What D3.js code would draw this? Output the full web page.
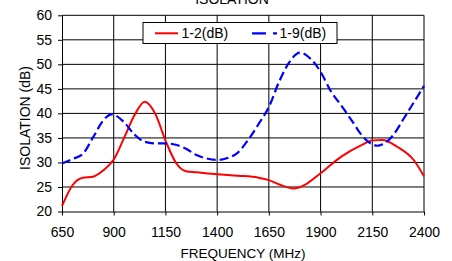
<!DOCTYPE html>
<html><head><meta charset="utf-8">
<script src="https://cdn.jsdelivr.net/npm/d3@7"></script>
<style>
body{margin:0;background:#fff;}
svg{display:block;font-family:"Liberation Sans",Arial,sans-serif;}
</style></head>
<body><svg id="c" width="452" height="261"></svg>
<script>
const title = "ISOLATION";
const xTitle = "FREQUENCY (MHz)";
const yTitle = "ISOLATION (dB)";
const xTicks = [650, 900, 1150, 1400, 1650, 1900, 2150, 2400];
const yTicks = [20, 25, 30, 35, 40, 45, 50, 55, 60];
const seriesNames = ["1-2(dB)", "1-9(dB)"];
const freq12 = [650,700,750,800,850,900,950,1000,1050,1100,1150,1200,1250,1300,1400,1500,1600,1650,1700,1770,1830,1900,2000,2100,2150,2200,2270,2350,2400];
const iso12  = [21.1,25.3,26.9,27.1,28.4,30.6,35.0,39.6,42.4,40.0,34.5,30.0,28.2,28.0,27.6,27.3,26.9,26.4,25.5,24.7,25.6,27.8,31.2,33.6,34.5,34.6,33.2,30.5,27.2];
const freq19 = [650,700,750,800,850,890,950,1000,1050,1100,1150,1200,1250,1300,1350,1400,1450,1500,1550,1600,1650,1700,1750,1800,1850,1900,1950,2000,2050,2100,2150,2175,2200,2250,2300,2350,2400];
const iso19  = [29.8,30.7,31.7,35.1,38.6,39.8,38.2,35.7,34.2,33.9,33.9,33.6,32.8,31.5,30.8,30.5,30.9,32.0,34.6,37.8,41.3,46.5,50.5,52.4,51.2,48.5,44.5,41.6,38.6,35.5,33.7,33.4,33.7,35.5,38.8,42.2,45.6];

const svg = d3.select("#c");
const x = d3.scaleLinear().domain([650, 2400]).range([62, 424]);
const y = d3.scaleLinear().domain([20, 60]).range([211.5, 15.3]);

// grid
const g = svg.append("g");
g.selectAll("line.h").data(yTicks.filter(d => d > 20)).join("line")
  .attr("x1", x(650)).attr("x2", x(2400)).attr("y1", d => y(d)).attr("y2", d => y(d))
  .attr("stroke", "#000").attr("stroke-width", 1);
g.selectAll("line.v").data(xTicks.filter(d => d > 650)).join("line")
  .attr("x1", d => x(d)).attr("x2", d => x(d)).attr("y1", y(20)).attr("y2", y(60))
  .attr("stroke", "#000").attr("stroke-width", 1);

// axes
const xAxis = svg.append("g").attr("transform", `translate(0,${y(20)})`)
  .call(d3.axisBottom(x).tickValues(xTicks).tickFormat(d3.format("d")).tickSize(4).tickSizeOuter(0).tickPadding(11.3));
const yAxis = svg.append("g").attr("transform", `translate(${x(650)},0)`)
  .call(d3.axisLeft(y).tickValues(yTicks).tickSize(4).tickSizeOuter(0).tickPadding(6));
[xAxis, yAxis].forEach(a => {
  a.selectAll("text").attr("font-size", 14).attr("fill", "#000").attr("font-family", "Liberation Sans, Arial, sans-serif");
  a.select(".domain").attr("stroke", "#000");
  a.selectAll(".tick line").attr("stroke", "#000");
});

// lines
const line = d3.line().curve(d3.curveMonotoneX).x(d => x(d[0])).y(d => y(d[1]));
svg.append("path").datum(freq12.map((f, i) => [f, iso12[i]]))
  .attr("d", line).attr("fill", "none").attr("stroke", "#ff0000").attr("stroke-width", 2);
svg.append("path").datum(freq19.map((f, i) => [f, iso19[i]]))
  .attr("d", line).attr("fill", "none").attr("stroke", "#0000ff").attr("stroke-width", 2.2)
  .attr("stroke-dasharray", "9,4");

// titles
svg.append("text").attr("x", 232).attr("y", 3.5).attr("text-anchor", "middle")
  .attr("font-size", 14).text(title);
svg.append("text").attr("x", 243).attr("y", 258).attr("text-anchor", "middle")
  .attr("font-size", 13.5).text(xTitle);
svg.append("text").attr("transform", "translate(30,118) rotate(-90)").attr("text-anchor", "middle")
  .attr("font-size", 14).text(yTitle);

// legend
const lg = svg.append("g");
lg.append("rect").attr("x", 143).attr("y", 22.5).attr("width", 194).attr("height", 21)
  .attr("fill", "#fff").attr("stroke", "#000").attr("stroke-width", 1);
lg.append("line").attr("x1", 155).attr("x2", 178).attr("y1", 33.3).attr("y2", 33.3)
  .attr("stroke", "#ff0000").attr("stroke-width", 2);
lg.append("text").attr("x", 181.5).attr("y", 38.3).attr("font-size", 14).text(seriesNames[0]);
lg.append("line").attr("x1", 252).attr("x2", 277).attr("y1", 33.3).attr("y2", 33.3)
  .attr("stroke", "#0000ff").attr("stroke-width", 2.2).attr("stroke-dasharray", "14,7,4");
lg.append("text").attr("x", 279.5).attr("y", 38.3).attr("font-size", 14).text(seriesNames[1]);
</script></body></html>
